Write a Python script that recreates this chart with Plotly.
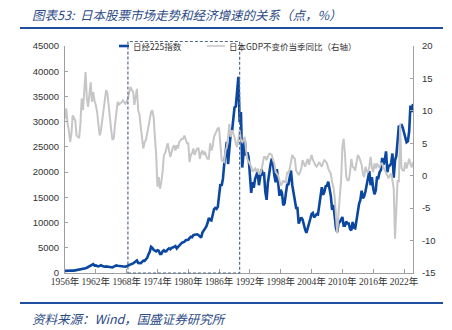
import plotly.graph_objects as go

# ---------------- data (quarterly, 1956Q1 - 2023Q4) ----------------
start_year = 1956
end_year = 2023

# Nikkei 225 index, quarter values (points)
nikkei = [
    430, 460, 480, 550,        # 1956
    560, 520, 500, 480,        # 1957
    520, 580, 620, 660,        # 1958
    750, 840, 900, 870,        # 1959
    950, 1050, 1200, 1350,     # 1960
    1500, 1650, 1750, 1450,    # 1961
    1500, 1400, 1300, 1400,    # 1962
    1550, 1400, 1300, 1250,    # 1963
    1300, 1250, 1300, 1200,    # 1964
    1150, 1100, 1250, 1400,    # 1965
    1500, 1450, 1400, 1450,    # 1966
    1400, 1350, 1300, 1250,    # 1967
    1350, 1500, 1600, 1700,    # 1968
    1800, 1900, 2100, 2350,    # 1969
    2500, 2000, 2050, 1950,    # 1970
    2200, 2450, 2400, 2700,    # 1971
    3000, 3700, 4200, 5200,    # 1972
    5000, 4600, 4400, 4300,    # 1973
    4500, 4400, 3800, 3800,    # 1974
    4300, 4500, 4250, 4350,    # 1975
    4700, 4900, 4700, 4990,    # 1976
    5050, 5250, 5350, 4860,    # 1977
    5200, 5500, 5850, 6000,    # 1978
    6100, 6200, 6500, 6550,    # 1979
    6600, 6900, 7200, 7100,    # 1980
    7500, 7600, 7700, 7680,    # 1981
    7500, 7300, 7000, 8000,    # 1982
    8400, 8800, 9200, 9900,    # 1983
    10900, 10500, 10400, 11500,  # 1984
    12600, 12900, 12700, 13100,  # 1985
    15900, 17600, 17300, 18700,  # 1986
    21600, 24200, 26000, 21600,  # 1987
    25000, 27600, 27900, 30200,  # 1988
    32800, 33000, 35600, 38900,  # 1989
    29900, 31900, 20900, 23800,  # 1990
    26300, 23300, 23900, 22900,  # 1991
    19300, 15900, 18000, 16900,  # 1992
    18600, 19600, 20100, 17400,  # 1993
    19100, 20600, 19600, 19700,  # 1994
    16100, 14500, 17900, 19900,  # 1995
    21400, 22700, 21600, 19400,  # 1996
    18000, 20600, 17900, 15300,  # 1997
    16500, 15800, 13400, 13800,  # 1998
    15800, 17500, 17600, 18900,  # 1999
    20300, 17400, 15700, 13800,  # 2000
    12900, 12900, 9800, 10500,   # 2001
    11000, 10600, 9400, 8600,    # 2002
    7970, 9080, 10200, 10700,    # 2003
    11700, 11900, 11000, 11500,  # 2004
    11700, 11600, 13600, 16100,  # 2005
    17000, 15500, 16100, 17200,  # 2006
    17300, 18100, 16800, 15300,  # 2007
    12500, 13500, 11300, 8900,   # 2008
    8100, 9960, 10100, 10500,    # 2009
    11100, 9400, 9400, 10200,    # 2010
    9800, 9800, 8700, 8450,      # 2011
    10100, 9000, 8870, 10400,    # 2012
    12400, 13700, 14500, 16300,  # 2013
    14800, 15200, 16200, 17500,  # 2014
    19200, 20200, 17400, 19000,  # 2015
    16800, 15600, 16400, 19100,  # 2016
    18900, 20000, 20400, 22800,  # 2017
    21500, 22300, 24100, 20000,  # 2018
    21200, 21300, 21800, 23700,  # 2019
    18900, 22300, 23200, 27400,  # 2020
    29200, 28800, 29500, 28800,  # 2021
    27800, 26400, 25900, 26100,  # 2022
    28000, 33200, 31900, 33500,  # 2023
]

# Japan real GDP, year-on-year growth by quarter (%), right axis
gdp_yoy = [
    8.8, 10.4, 8.0, 7.0,     # 1956
    5.2, 6.5, 9.3, 8.8,      # 1957
    8.5, 6.2, 6.0, 5.8,      # 1958
    8.0, 11.9, 10.1, 12.5,   # 1959
    16.0, 12.0, 10.6, 12.5,  # 1960
    14.4, 11.4, 12.9, 11.5,  # 1961
    10.9, 9.8, 8.0, 6.2,     # 1962
    7.0, 8.5, 10.6, 12.0,    # 1963
    13.2, 12.7, 10.5, 9.1,   # 1964
    7.0, 5.5, 5.8, 8.0,      # 1965
    9.6, 11.4, 11.0, 11.1,   # 1966
    11.3, 11.6, 11.3, 11.1,  # 1967
    11.4, 11.9, 12.8, 13.7,  # 1968
    13.2, 13.0, 10.9, 12.0,  # 1969
    13.4, 10.1, 9.4, 7.5,    # 1970
    6.0, 4.2, 5.2, 5.5,      # 1971
    6.5, 7.8, 9.1, 9.8,      # 1972
    10.1, 9.1, 6.0, 3.2,     # 1973
    -1.7, -0.2, -2.0, -1.0,  # 1974
    0.6, 3.2, 3.5, 4.5,      # 1975
    5.0, 3.9, 2.9, 3.6,      # 1976
    4.4, 4.7, 3.9, 4.7,      # 1977
    4.2, 5.2, 5.5, 5.7,      # 1978
    5.7, 6.2, 5.6, 5.0,      # 1979
    5.0, 2.1, 3.2, 3.5,      # 1980
    4.2, 3.2, 3.8, 4.2,      # 1981
    4.2, 2.6, 3.5, 3.9,      # 1982
    3.2, 3.7, 3.0, 2.6,      # 1983
    2.6, 5.0, 3.9, 4.5,      # 1984
    6.0, 6.4, 6.8, 7.3,      # 1985
    7.3, 4.7, 2.4, 2.2,      # 1986
    2.1, 3.9, 4.4, 6.0,      # 1987
    8.0, 6.0, 7.0, 6.5,      # 1988
    6.0, 5.0, 4.4, 5.5,      # 1989
    7.0, 5.5, 5.2, 5.5,      # 1990
    6.0, 3.9, 2.6, 2.2,      # 1991
    1.9, 1.4, 0.6, 0.8,      # 1992
    1.1, 0.6, 1.1, 0.3,      # 1993
    0.3, 0.9, 1.7, 2.9,      # 1994
    2.9, 2.4, 2.9, 3.4,      # 1995
    3.4, 3.2, 2.4, 1.9,      # 1996
    0.6, 0.3, 0.0, -0.7,     # 1997
    -1.5, -1.2, -0.7, -1.0,  # 1998
    -1.0, 0.6, 0.3, 1.1,     # 1999
    2.0, 3.2, 2.8, 2.6,      # 2000
    0.8, 0.5, 0.1, 0.5,      # 2001
    1.1, 2.4, 1.8, 1.4,      # 2002
    2.0, 2.6, 1.7, 2.5,      # 2003
    3.2, 2.5, 1.9, 1.6,      # 2004
    1.4, 1.8, 2.1, 1.7,      # 2005
    1.4, 2.0, 2.4, 2.2,      # 2006
    1.9, 1.1, 0.6, 0.3,      # 2007
    -1.0, -1.7, -3.3, -6.9,  # 2008
    -8.9, -5.8, -3.0, -0.7,  # 2009
    4.4, 5.7, 3.4, -0.2,     # 2010
    -0.7, -0.7, 0.6, 2.6,    # 2011
    1.4, 1.2, 0.8, 2.4,      # 2012
    3.2, 2.9, 2.3, 1.7,      # 2013
    0.3, -0.2, 1.4, 0.6,     # 2014
    0.6, 1.4, 2.9, 1.2,      # 2015
    0.6, 1.9, 1.1, 1.9,      # 2016
    1.4, 1.3, 1.9, 1.9,      # 2017
    1.3, 0.8, 0.6, 0.0,      # 2018
    -0.4, 0.1, 0.3, -0.7,    # 2019
    -2.0, -9.7, -5.5, -0.7,  # 2020
    -1.0, 8.0, 1.2, 0.8,     # 2021
    0.8, 2.1, 1.1, 2.1,      # 2022
    2.6, 1.8, 1.3, 2.1,      # 2023
]

# x positions: year + quarter fraction
quarters = [y + q / 4 for y in range(start_year, end_year + 1) for q in range(4)]

tick_years = list(range(1956, 2023, 6))
tick_labels = [f"{y}年" for y in tick_years]

left_ticks = list(range(0, 45001, 5000))
left_labels = [str(v) for v in left_ticks]
right_ticks = list(range(-15, 21, 5))
right_labels = [str(v) for v in right_ticks]

highlight_start = 1968.25
highlight_end = 1990.0

title_text = "图表53:  日本股票市场走势和经济增速的关系（点，%）"
source_text = "资料来源：Wind，国盛证券研究所"
name_nikkei = "日经225指数"
name_gdp = "日本GDP不变价当季同比（右轴）"

# ---------------- figure ----------------
BLUE = "#0B47A1"
GREY = "#C6C6C6"
DARKBLUE = "#1F4E9E"
AXIS = "#A0A0A0"
TXT = "#333333"
CJK = "Noto Sans CJK SC"

W, H = 452, 330
ml, mr, mt, mb = 65, 39, 46, 57
pw, ph = W - ml - mr, H - mt - mb


def px_x(p):
    return (p - ml) / pw


def px_y(p):
    return (H - mb - p) / ph


fig = go.Figure()
fig.add_trace(go.Scatter(
    x=quarters, y=gdp_yoy, name=name_gdp, mode="lines",
    line=dict(color=GREY, width=2), yaxis="y2", showlegend=False))
fig.add_trace(go.Scatter(
    x=quarters, y=nikkei, name=name_nikkei, mode="lines",
    line=dict(color=BLUE, width=2.6), yaxis="y", showlegend=False))

fig.update_layout(
    width=W, height=H,
    margin=dict(l=ml, r=mr, t=mt, b=mb, pad=0),
    paper_bgcolor="white", plot_bgcolor="white",
    font=dict(family=f"Liberation Sans, {CJK}", size=9, color=TXT),
    showlegend=False,
    xaxis=dict(
        range=[1956, 2023.75], tickmode="array", tickvals=tick_years, ticktext=tick_labels,
        tickangle=0,
        showline=True, linecolor=AXIS, linewidth=1, ticks="inside", ticklen=4,
        tickcolor=AXIS, showgrid=False, zeroline=False,
        tickfont=dict(family=f"Liberation Serif, {CJK}", size=9.5, color=TXT),
    ),
    yaxis=dict(
        range=[0, 45000], tickmode="array", tickvals=left_ticks, ticktext=left_labels,
        showline=True, linecolor=AXIS, linewidth=1, ticks="inside", ticklen=3,
        tickcolor=AXIS, showgrid=False, zeroline=False,
        tickfont=dict(family="Liberation Sans", size=9.5, color=TXT),
        ticklabelstandoff=3,
    ),
    yaxis2=dict(
        range=[-15, 20], tickmode="array", tickvals=right_ticks, ticktext=right_labels,
        overlaying="y",
        side="right", showline=True, linecolor=AXIS, linewidth=1, ticks="inside",
        ticklen=3, tickcolor=AXIS, showgrid=False, zeroline=False,
        tickfont=dict(family="Liberation Sans", size=9.5, color=TXT),
        ticklabelstandoff=6,
    ),
)

# legend (drawn manually to match compact samples)
leg_y = px_y(46)
fig.add_shape(type="line", xref="paper", yref="paper",
              x0=px_x(119), x1=px_x(129), y0=leg_y, y1=leg_y,
              line=dict(color=BLUE, width=2.6))
fig.add_annotation(text=name_nikkei, xref="paper", yref="paper",
                   x=px_x(131), y=leg_y, xanchor="left", yanchor="middle",
                   showarrow=False, font=dict(family=CJK, size=8.5, color=TXT))
fig.add_shape(type="line", xref="paper", yref="paper",
              x0=px_x(207), x1=px_x(225), y0=leg_y, y1=leg_y,
              line=dict(color=GREY, width=1.5))
fig.add_annotation(text=name_gdp, xref="paper", yref="paper",
                   x=px_x(227), y=leg_y, xanchor="left", yanchor="middle",
                   showarrow=False, font=dict(family=CJK, size=8.5, color=TXT))

# highlight box (dashed)
fig.add_shape(type="rect", xref="x", yref="paper",
              x0=highlight_start, x1=highlight_end, y0=0, y1=px_y(41.5),
              line=dict(color="#4F6A8C", width=1.2, dash="3px,2px"), layer="above")

# header / footer rules
fig.add_shape(type="line", xref="paper", yref="paper",
              x0=px_x(20), x1=px_x(443), y0=px_y(28), y1=px_y(28),
              line=dict(color=DARKBLUE, width=2))
fig.add_shape(type="line", xref="paper", yref="paper",
              x0=px_x(20), x1=px_x(443), y0=px_y(303), y1=px_y(303),
              line=dict(color=DARKBLUE, width=2))

fig.add_annotation(text=f"<i>{title_text}</i>", xref="paper", yref="paper",
                   x=px_x(30), y=px_y(14), xanchor="left", yanchor="middle",
                   showarrow=False, font=dict(family=CJK, size=12.5, color="#2B4A86"))
fig.add_annotation(text=f"<i>{source_text}</i>", xref="paper", yref="paper",
                   x=px_x(30), y=px_y(318), xanchor="left", yanchor="middle",
                   showarrow=False, font=dict(family=CJK, size=12.5, color="#2B4A86"))

fig.write_html("out.html")
